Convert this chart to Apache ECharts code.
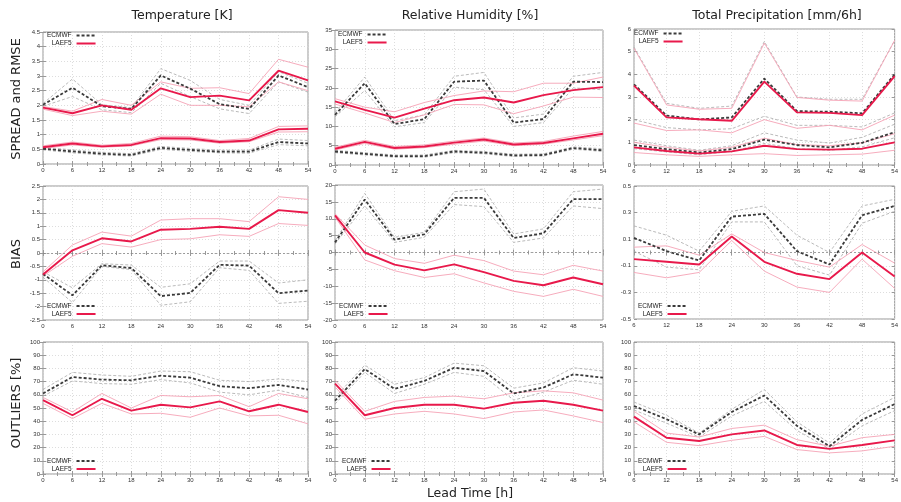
<!DOCTYPE html>
<html><head><meta charset="utf-8">
<script src="https://cdn.jsdelivr.net/npm/echarts@6/dist/echarts.min.js"></script>
<style>html,body{margin:0;padding:0;background:#fff}#c{width:901px;height:502px}</style>
</head><body><div id="c"></div>
<script>
// ---------- categories / labels ----------
const leadTimes = [0, 6, 12, 18, 24, 30, 36, 42, 48, 54];
const leadTimesPrecip = [6, 12, 18, 24, 30, 36, 42, 48, 54];
const columnTitles = ['Temperature [K]', 'Relative Humidity [%]', 'Total Precipitation [mm/6h]'];
const rowTitles = ['SPREAD and RMSE', 'BIAS', 'OUTLIERS [%]'];
const legendNames = ['ECMWF', 'LAEF5'];
const xAxisTitle = 'Lead Time [h]';

// ---------- Temperature: RMSE & SPREAD ----------
const tRmseEc   = [2.02, 2.6, 1.97, 1.88, 3.02, 2.57, 2.04, 1.88, 3.02, 2.62];
const tRmseEcHi = [2.06, 2.9, 2.02, 1.92, 3.25, 2.85, 2.2, 2.0, 3.15, 2.75];
const tRmseEcLo = [1.97, 2.3, 1.85, 1.75, 2.75, 2.3, 1.88, 1.72, 2.8, 2.45];
const tRmseLa   = [1.92, 1.73, 2.0, 1.85, 2.58, 2.28, 2.33, 2.17, 3.18, 2.85];
const tRmseLaHi = [1.96, 1.8, 2.2, 2.0, 2.8, 2.58, 2.6, 2.4, 3.57, 3.3];
const tRmseLaLo = [1.87, 1.65, 1.8, 1.7, 2.38, 2.0, 2.0, 1.95, 2.8, 2.5];
const tSprEc    = [0.52, 0.43, 0.35, 0.31, 0.55, 0.48, 0.42, 0.42, 0.75, 0.7];
const tSprEcHi  = [0.57, 0.48, 0.4, 0.35, 0.6, 0.53, 0.47, 0.47, 0.85, 0.8];
const tSprEcLo  = [0.48, 0.38, 0.31, 0.27, 0.5, 0.43, 0.38, 0.37, 0.66, 0.62];
const tSprLa    = [0.57, 0.7, 0.6, 0.65, 0.88, 0.87, 0.75, 0.8, 1.18, 1.2];
const tSprLaHi  = [0.62, 0.75, 0.64, 0.7, 0.95, 0.93, 0.8, 0.87, 1.28, 1.3];
const tSprLaLo  = [0.53, 0.65, 0.57, 0.62, 0.83, 0.82, 0.71, 0.76, 1.09, 1.1];

// ---------- Relative humidity: RMSE & SPREAD ----------
const rRmseEc   = [13.0, 21.2, 10.6, 11.9, 21.6, 21.9, 11.0, 11.9, 21.6, 21.5];
const rRmseEcHi = [13.6, 22.8, 11.5, 13.0, 23.0, 24.0, 12.2, 13.2, 23.0, 24.0];
const rRmseEcLo = [12.5, 19.3, 9.9, 11.0, 20.2, 19.5, 10.0, 11.0, 20.0, 19.5];
const rRmseLa   = [16.5, 14.3, 12.3, 14.6, 16.8, 17.5, 16.2, 18.1, 19.4, 20.2];
const rRmseLaHi = [17.2, 15.0, 13.8, 16.2, 18.0, 19.2, 19.0, 21.2, 21.2, 22.8];
const rRmseLaLo = [15.8, 13.5, 11.0, 13.0, 15.7, 15.6, 13.3, 15.3, 17.6, 17.5];
const rSprEc    = [3.5, 2.9, 2.3, 2.3, 3.5, 3.2, 2.5, 2.6, 4.4, 3.8];
const rSprEcHi  = [3.8, 3.2, 2.6, 2.6, 3.8, 3.5, 2.8, 2.9, 4.7, 4.2];
const rSprEcLo  = [3.2, 2.6, 2.0, 2.0, 3.2, 2.9, 2.2, 2.3, 4.1, 3.5];
const rSprLa    = [4.2, 6.0, 4.4, 4.8, 5.8, 6.6, 5.3, 5.7, 6.9, 8.1];
const rSprLaHi  = [4.6, 6.4, 4.8, 5.2, 6.2, 7.0, 5.7, 6.1, 7.5, 8.7];
const rSprLaLo  = [3.9, 5.6, 4.1, 4.5, 5.4, 6.2, 5.0, 5.4, 6.5, 7.6];

// ---------- Precipitation: RMSE & SPREAD ----------
const pRmseEc   = [3.56, 2.18, 2.01, 2.1, 3.81, 2.38, 2.35, 2.28, 4.0];
const pRmseEcHi = [5.2, 2.72, 2.5, 2.6, 5.45, 3.0, 2.9, 2.9, 5.5];
const pRmseEcLo = [2.0, 1.65, 1.55, 1.6, 2.15, 1.75, 1.75, 1.68, 2.3];
const pRmseLa   = [3.5, 2.1, 2.02, 1.95, 3.68, 2.32, 2.3, 2.2, 3.92];
const pRmseLaHi = [5.15, 2.65, 2.46, 2.5, 5.38, 2.98, 2.86, 2.82, 5.5];
const pRmseLaLo = [1.85, 1.52, 1.55, 1.42, 2.0, 1.62, 1.75, 1.55, 2.2];
const pSprEc    = [0.88, 0.7, 0.55, 0.7, 1.12, 0.88, 0.78, 0.98, 1.45];
const pSprEcHi  = [1.1, 0.85, 0.65, 0.85, 1.42, 1.1, 0.97, 1.22, 1.8];
const pSprEcLo  = [0.72, 0.58, 0.45, 0.6, 0.95, 0.72, 0.65, 0.8, 1.2];
const pSprLa    = [0.78, 0.62, 0.5, 0.6, 0.85, 0.7, 0.68, 0.72, 1.0];
const pSprLaHi  = [1.0, 0.78, 0.62, 0.78, 1.18, 0.9, 0.85, 0.98, 1.38];
const pSprLaLo  = [0.55, 0.45, 0.38, 0.45, 0.5, 0.42, 0.45, 0.48, 0.65];

// ---------- BIAS ----------
const tBiasEc   = [-0.78, -1.58, -0.46, -0.56, -1.61, -1.49, -0.44, -0.47, -1.5, -1.4];
const tBiasEcHi = [-0.7, -1.3, -0.4, -0.45, -1.28, -1.15, -0.3, -0.3, -1.12, -1.0];
const tBiasEcLo = [-0.9, -1.85, -0.5, -0.62, -1.95, -1.82, -0.55, -0.65, -1.88, -1.8];
const tBiasLa   = [-0.8, 0.1, 0.55, 0.43, 0.87, 0.9, 0.98, 0.9, 1.6, 1.5];
const tBiasLaHi = [-0.7, 0.3, 0.78, 0.63, 1.23, 1.28, 1.28, 1.17, 2.1, 2.0];
const tBiasLaLo = [-0.86, -0.12, 0.35, 0.22, 0.5, 0.53, 0.68, 0.62, 1.1, 1.03];

const rBiasEc   = [3.0, 15.7, 3.8, 5.4, 16.2, 16.2, 4.3, 5.7, 15.8, 15.8];
const rBiasEcHi = [3.5, 17.5, 4.5, 6.0, 18.0, 18.8, 5.5, 7.0, 18.0, 18.8];
const rBiasEcLo = [2.5, 13.8, 3.0, 4.5, 14.2, 13.6, 3.0, 4.3, 13.8, 13.0];
const rBiasLa   = [11.0, 0.0, -3.6, -5.3, -3.5, -5.8, -8.4, -9.7, -7.4, -9.4];
const rBiasLaHi = [11.5, 2.2, -1.8, -3.2, -0.8, -2.4, -5.5, -6.6, -3.8, -5.5];
const rBiasLaLo = [10.5, -2.2, -5.4, -7.4, -6.3, -9.0, -11.5, -13.0, -10.9, -13.0];

const pBiasEc   = [0.11, 0.01, -0.06, 0.27, 0.29, 0.01, -0.09, 0.28, 0.35];
const pBiasEcHi = [0.2, 0.13, 0.01, 0.31, 0.35, 0.13, 0.0, 0.35, 0.4];
const pBiasEcLo = [0.01, -0.11, -0.13, 0.23, 0.23, -0.1, -0.17, 0.22, 0.31];
const pBiasLa   = [-0.05, -0.07, -0.09, 0.12, -0.07, -0.16, -0.2, 0.0, -0.18];
const pBiasLaHi = [0.04, 0.05, -0.02, 0.14, 0.0, -0.06, -0.11, 0.06, -0.08];
const pBiasLaLo = [-0.15, -0.19, -0.15, 0.09, -0.14, -0.26, -0.3, -0.05, -0.27];

// ---------- OUTLIERS ----------
const tOutEc   = [61, 73.5, 71.5, 71, 74.5, 73, 66.5, 65, 67.5, 64];
const tOutEcHi = [64, 77, 75, 74, 78, 77.5, 71, 70, 72, 70];
const tOutEcLo = [59, 70.5, 68.5, 68, 71.5, 69, 62, 60, 63.5, 58];
const tOutLa   = [56, 44.5, 57, 48, 52.5, 50.5, 55, 47.5, 52.5, 47];
const tOutLaHi = [58, 47, 61, 50, 59.5, 58.5, 59.5, 51, 61, 57];
const tOutLaLo = [53.5, 42, 53.5, 45.5, 46, 43, 50, 44, 44.5, 38];

const rOutEc   = [55.5, 79.5, 64.5, 70.5, 80.5, 78, 61, 65.5, 75.5, 73];
const rOutEcHi = [58, 82.5, 68, 73, 84, 82, 65, 69, 80.5, 78];
const rOutEcLo = [53, 77, 61, 68, 77, 74, 56, 62, 71, 68];
const rOutLa   = [68.5, 44.5, 50, 52.5, 52.5, 49.5, 54, 55.5, 52.5, 48];
const rOutLaHi = [71, 47.5, 55, 58, 59, 57, 61.5, 63, 61.5, 56];
const rOutLaLo = [66, 41.5, 45.5, 47.5, 45.5, 42, 47, 48.5, 44, 39];

const pOutEc   = [51.5, 41.5, 30, 47, 59.5, 36.5, 21, 41, 53];
const pOutEcHi = [54.5, 44.5, 31, 49, 64, 39.5, 23.5, 45.5, 58];
const pOutEcLo = [48.5, 38.5, 28, 44, 55, 33, 19, 36.5, 48];
const pOutLa   = [43.5, 27.5, 25, 30, 33, 22, 19, 22, 25.5];
const pOutLaHi = [47.5, 31, 28, 34.5, 37, 26, 21, 27.5, 30];
const pOutLaLo = [39.5, 24, 21.5, 25.5, 28.5, 18.5, 16, 17.5, 21];

// ---------- panel definitions ----------
const panels = [
  { x: leadTimes, y: [0, 4.5, 0.5], zero: false,
    sets: [[tRmseEc, tRmseEcHi, tRmseEcLo, tRmseLa, tRmseLaHi, tRmseLaLo], [tSprEc, tSprEcHi, tSprEcLo, tSprLa, tSprLaHi, tSprLaLo]] },
  { x: leadTimes, y: [0, 35, 5], zero: false,
    sets: [[rRmseEc, rRmseEcHi, rRmseEcLo, rRmseLa, rRmseLaHi, rRmseLaLo], [rSprEc, rSprEcHi, rSprEcLo, rSprLa, rSprLaHi, rSprLaLo]] },
  { x: leadTimesPrecip, y: [0, 6, 1], zero: false,
    sets: [[pRmseEc, pRmseEcHi, pRmseEcLo, pRmseLa, pRmseLaHi, pRmseLaLo], [pSprEc, pSprEcHi, pSprEcLo, pSprLa, pSprLaHi, pSprLaLo]] },
  { x: leadTimes, y: [-2.5, 2.5, 0.5], zero: true,
    sets: [[tBiasEc, tBiasEcHi, tBiasEcLo, tBiasLa, tBiasLaHi, tBiasLaLo]] },
  { x: leadTimes, y: [-20, 20, 5], zero: true,
    sets: [[rBiasEc, rBiasEcHi, rBiasEcLo, rBiasLa, rBiasLaHi, rBiasLaLo]] },
  { x: leadTimesPrecip, y: [-0.5, 0.5, 0.2], zero: true,
    sets: [[pBiasEc, pBiasEcHi, pBiasEcLo, pBiasLa, pBiasLaHi, pBiasLaLo]] },
  { x: leadTimes, y: [0, 100, 10], zero: false,
    sets: [[tOutEc, tOutEcHi, tOutEcLo, tOutLa, tOutLaHi, tOutLaLo]] },
  { x: leadTimes, y: [0, 100, 10], zero: false,
    sets: [[rOutEc, rOutEcHi, rOutEcLo, rOutLa, rOutLaHi, rOutLaLo]] },
  { x: leadTimesPrecip, y: [0, 100, 10], zero: false,
    sets: [[pOutEc, pOutEcHi, pOutEcLo, pOutLa, pOutLaHi, pOutLaLo]] }
];

// layout (pixels)
const gridBoxes = [
  [43, 32, 265, 132], [335, 30, 268, 135], [634, 29, 264, 136],
  [43, 186, 265, 134], [335, 185, 268, 135], [634, 186, 264, 133],
  [43, 342, 265, 132], [335, 342, 268, 132], [634, 342, 264, 132]
];
const legendPos = [
  [47, 32], [338, 31], [634, 30],
  [47, 302.5], [339, 302.5], [638, 302.5],
  [47, 457.5], [342, 457.5], [638, 457.5]
];

const RED = '#e8194b', PINK = '#f5a3b6', DARK = '#3a3a3a', GREY = '#a8a8a8';
const FRAME = '#999';
const tickFont = { fontSize: 6, color: '#333', fontFamily: 'Liberation Sans' };

const grid = [], xAxis = [], yAxis = [], series = [], legend = [];

panels.forEach((p, i) => {
  const b = gridBoxes[i];
  grid.push({ left: b[0], top: b[1], width: b[2], height: b[3], show: true,
    borderColor: FRAME, borderWidth: 1, backgroundColor: 'transparent', containLabel: false });
  const xMin = p.x[0], xMax = p.x[p.x.length - 1];
  const xBase = { type: 'value', gridIndex: i, min: xMin, max: xMax, interval: 6,
    axisLine: { show: false },
    axisTick: { show: true, inside: true, length: 3, lineStyle: { color: FRAME } },
    minorTick: { show: true, splitNumber: 2, length: 2, lineStyle: { color: FRAME } } };
  xAxis.push(Object.assign({}, xBase, { position: 'bottom',
    axisLabel: Object.assign({ margin: 3 }, tickFont),
    splitLine: { show: true, lineStyle: { color: '#d4d4d4', type: [1, 2], width: 0.8 } } }));
  xAxis.push(Object.assign({}, xBase, { position: 'top', axisLabel: { show: false }, splitLine: { show: false } }));
  const yBase = { type: 'value', gridIndex: i, min: p.y[0], max: p.y[1], interval: p.y[2],
    axisLine: { show: false },
    axisTick: { show: true, inside: true, length: 3, lineStyle: { color: FRAME } } };
  yAxis.push(Object.assign({}, yBase, { position: 'left',
    axisLabel: Object.assign({ margin: 3, formatter: v => String(Math.round(v * 100) / 100) }, tickFont),
    splitLine: { show: true, lineStyle: { color: '#d4d4d4', type: [1, 2], width: 0.8 } } }));
  yAxis.push(Object.assign({}, yBase, { position: 'right', axisLabel: { show: false }, splitLine: { show: false } }));

  const xi = 2 * i, yi = 2 * i;
  const pts = arr => p.x.map((x, k) => [x, arr[k]]);
  const line = (name, arr, color, width, dash, z) => ({
    type: 'line', name: name, xAxisIndex: xi, yAxisIndex: yi, data: pts(arr),
    symbol: 'none', silent: true, animation: false, z: z,
    lineStyle: { color: color, width: width, type: dash }, itemStyle: { color: color }
  });
  p.sets.forEach((s, si) => {
    series.push(line('ec-bound', s[1], GREY, 0.8, [3, 2], 2));
    series.push(line('ec-bound', s[2], GREY, 0.8, [3, 2], 2));
    series.push(line('la-bound', s[4], PINK, 0.9, 'solid', 2));
    series.push(line('la-bound', s[5], PINK, 0.9, 'solid', 2));
    const ec = line(legendNames[0], s[0], DARK, 1.8, [3, 2], 4);
    if (p.zero && si === 0) {
      ec.markLine = { silent: true, symbol: 'none', animation: false, label: { show: false },
        lineStyle: { color: '#888', type: [2, 2], width: 0.8 }, data: [{ yAxis: 0 }] };
    }
    series.push(ec);
    series.push(line(legendNames[1], s[3], RED, 1.9, 'solid', 5));
  });

  legend.push({ data: legendNames, orient: 'vertical', left: legendPos[i][0], top: legendPos[i][1],
    align: 'right', itemWidth: 19, itemHeight: 7, itemGap: 1, padding: 0, selectedMode: false,
    itemStyle: { opacity: 0, color: 'transparent', borderColor: 'transparent', borderWidth: 0 },
    textStyle: { fontSize: 6.5, color: '#222', fontFamily: 'Liberation Sans' } });
});

const graphic = [];
const colCenters = [182, 470, 777];
columnTitles.forEach((t, i) => graphic.push({ type: 'text', x: colCenters[i], y: 16,
  style: { text: t, font: '12.5px "DejaVu Sans"', fill: '#222', textAlign: 'center', textVerticalAlign: 'middle' } }));
const rowCenters = [99, 254, 403];
rowTitles.forEach((t, i) => graphic.push({ type: 'text', x: 17, y: rowCenters[i], rotation: Math.PI / 2,
  style: { text: t, font: '13px "DejaVu Sans"', fill: '#222', textAlign: 'center', textVerticalAlign: 'middle' } }));
graphic.push({ type: 'text', x: 470, y: 494,
  style: { text: xAxisTitle, font: '12.5px "DejaVu Sans"', fill: '#222', textAlign: 'center', textVerticalAlign: 'middle' } });

const chart = echarts.init(document.getElementById('c'), null, { renderer: 'canvas' });
chart.setOption({ backgroundColor: '#fff', animation: false, grid, xAxis, yAxis, series, legend, graphic });
</script></body></html>
